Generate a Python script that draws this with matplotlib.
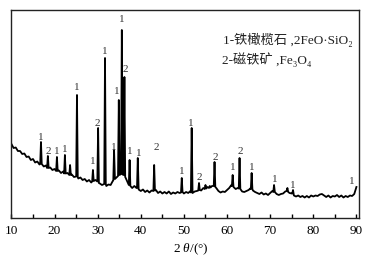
import matplotlib
matplotlib.use('Agg')
import matplotlib.pyplot as plt
import numpy as np

# ---------------- data ----------------
# background trace sampled every 0.5 deg from 10 to 90 deg (intensity, a.u.)
base_theta = np.linspace(10, 90, 161)
base_int = [740, 700, 705, 670, 670, 640, 645, 610, 615, 580,
            590, 555, 565, 535, 545, 515, 525, 495, 505, 480,
            490, 465, 475, 450, 465, 440, 450, 425, 435, 410,
            420, 395, 405, 380, 390, 365, 380, 355, 375, 380,
            360, 345, 330, 345, 320, 335, 330, 370, 390, 410,
            430, 440, 430, 400, 350, 320, 300, 320, 300, 285,
            270, 285, 260, 275, 255, 275, 270, 280, 250, 265,
            245, 260, 245, 265, 240, 255, 245, 260, 250, 265,
            245, 260, 250, 270, 250, 265, 270, 280, 275, 300,
            290, 310, 300, 320, 330, 300, 270, 255, 265, 260,
            280, 300, 330, 310, 290, 300, 290, 265, 260, 270,
            280, 300, 275, 260, 250, 240, 255, 235, 245, 230,
            250, 270, 265, 240, 230, 240, 245, 265, 280, 250,
            245, 225, 215, 225, 210, 220, 205, 220, 205, 225,
            215, 225, 220, 235, 240, 225, 210, 225, 205, 220,
            215, 230, 210, 225, 205, 220, 210, 225, 220, 240,
            310]

# diffraction peaks: position, top, left foot, right foot
peak_theta = [16.85, 18.45, 20.55, 22.4, 23.6, 25.2, 28.9, 30.1, 31.7, 33.8,
              34.9, 35.6, 36.2, 37.4, 39.3, 43.1, 49.5, 51.8, 53.5, 55.0,
              56.0, 57.1, 61.3, 62.9, 65.7, 70.9, 74.0, 75.3]
peak_top = [760, 620, 610, 630, 530, 1230, 480, 900, 1600, 680,
            1180, 1880, 1410, 580, 600, 530, 400, 900, 350, 330,
            320, 560, 430, 600, 450, 330, 300, 280]
peak_left = [540, 500, 470, 445, 430, 415, 365, 365, 340, 375,
             420, 440, 430, 330, 300, 270, 255, 255, 275, 290,
             300, 320, 320, 295, 290, 260, 270, 245]
peak_right = [540, 500, 470, 445, 430, 410, 370, 350, 340, 390,
              430, 435, 410, 320, 290, 275, 260, 260, 280, 295,
              305, 310, 310, 290, 290, 260, 260, 235]

# phase labels: text, position, height
lab_text = ['1', '2', '1', '1', '1', '1', '2', '1', '1', '1',
            '1', '2', '1', '1', '2', '1', '1', '2', '2', '1',
            '2', '1', '1', '1', '1']
lab_theta = [16.84, 18.5, 20.55, 22.4, 25.2, 28.9, 29.8, 31.7, 33.8, 34.5,
             35.6, 36.5, 37.4, 39.6, 43.5, 49.5, 51.6, 53.5, 57.2, 61.4,
             63.0, 65.8, 71.1, 75.3, 88.9]
lab_int = [810, 660, 660, 680, 1300, 560, 950, 1660, 710, 1260,
           1980, 1480, 660, 650, 700, 460, 950, 400, 610, 500,
           660, 500, 380, 330, 360]

legend_lines = ['1-铁橄榄石 ,2FeO·SiO₂', '2-磁铁矿 ,Fe₃O₄']
xticks = [10, 20, 30, 40, 50, 60, 70, 80, 90]

# ---------------- assemble trace ----------------
hw = 0.18
pts = []
for t, v in zip(base_theta, base_int):
    if all(abs(t - c) >= 0.2 for c in peak_theta):
        pts.append((t, v))
for c, top, l, r in zip(peak_theta, peak_top, peak_left, peak_right):
    pts.append((c - hw, l))
    pts.append((c, top))
    pts.append((c + hw, r))
pts.sort()
xs = [p[0] for p in pts]
ys = [p[1] for p in pts]

# ---------------- plot ----------------
plt.rcParams['font.family'] = ['Liberation Serif', 'Noto Sans CJK SC', 'DejaVu Serif']
plt.rcParams['mathtext.fontset'] = 'custom'
plt.rcParams['mathtext.rm'] = 'Liberation Serif'
plt.rcParams['mathtext.it'] = 'Liberation Serif:italic'

fig = plt.figure(figsize=(3.71, 2.64), dpi=100)
ax = fig.add_axes([11 / 371, 1 - 218 / 264, 348 / 371, 208 / 264])
ax.plot(xs, ys, color='black', lw=1.3)

for s, t, v in zip(lab_text, lab_theta, lab_int):
    ax.text(t, v, s, ha='center', va='center', fontsize=8, color='#333333')

ax.text(0.61, 0.855, legend_lines[0], transform=ax.transAxes, fontsize=9.5,
        ha='left', va='center', color='#222222')
ax.text(0.607, 0.76, legend_lines[1], transform=ax.transAxes, fontsize=9.5,
        ha='left', va='center', color='#222222')

ax.set_xlim(9.9, 90.6)
ax.set_ylim(0, 2080)
ax.set_xticks(xticks)
ax.set_xticks([15, 25, 35, 45, 55, 65, 75, 85], minor=True)
ax.set_yticks([])
ax.tick_params(axis='x', which='both', direction='in', length=3, width=1,
               labelsize=9.5, pad=5)
for sp in ax.spines.values():
    sp.set_linewidth(1.0)
    sp.set_color('#222222')
fig.text(191 / 371, 1 - 249 / 264, '2 $\\mathit{\\theta}$/(°)', fontsize=9.5,
         ha='center', va='center')

fig.savefig('out.png', dpi=100)
